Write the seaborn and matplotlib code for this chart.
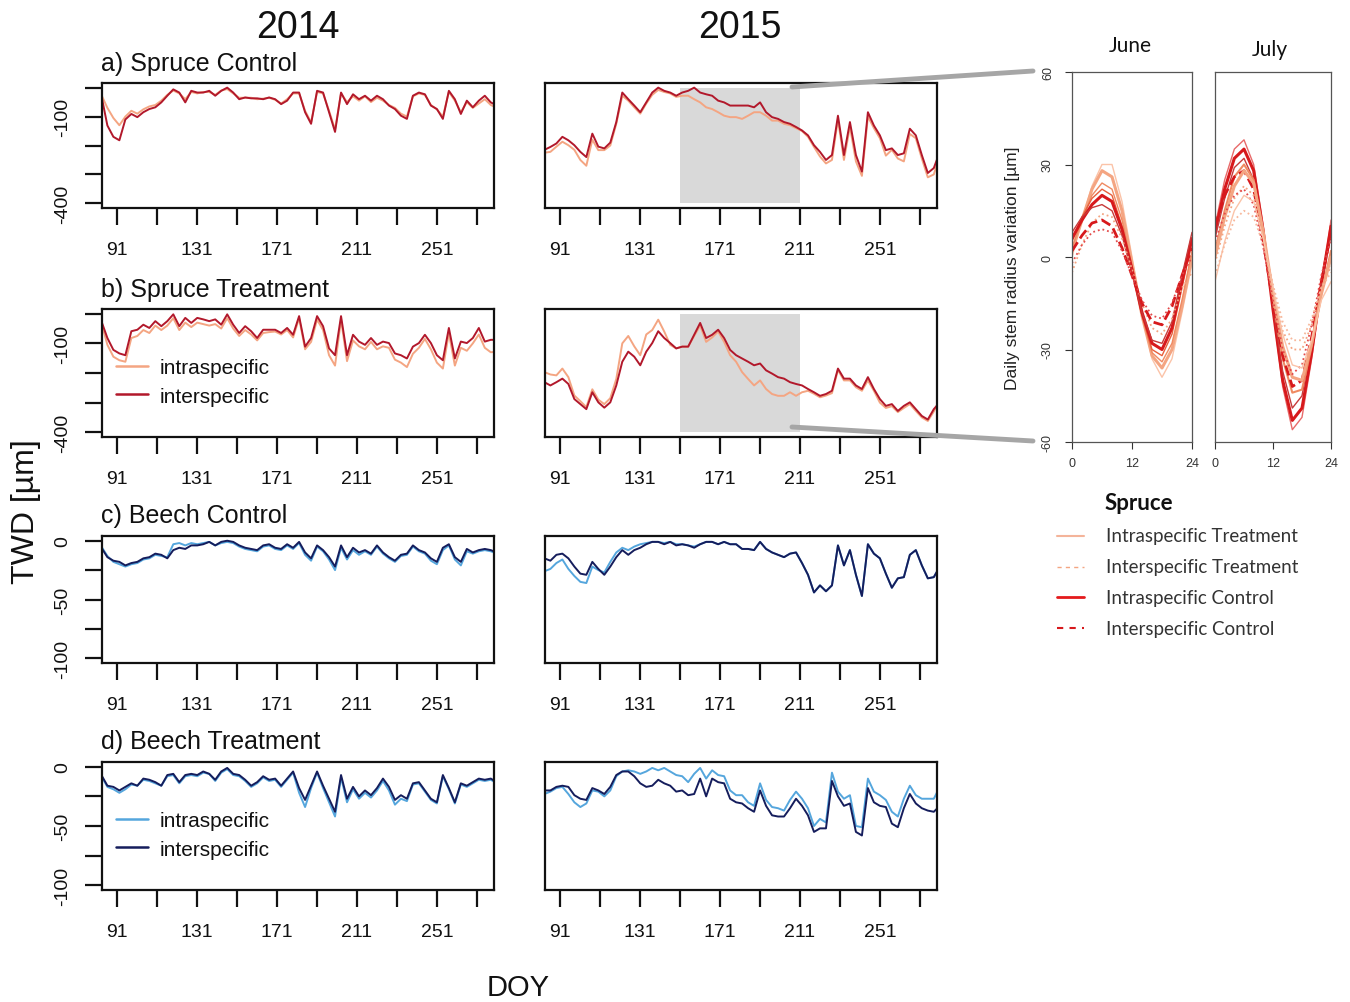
import numpy as np
import matplotlib
matplotlib.use("Agg")
import matplotlib.pyplot as plt
import seaborn as sns
from matplotlib.lines import Line2D

# ---------------- data ----------------
doy = np.arange(83, 282, 3)  # day of year, every 3rd day

spruce_ctrl_2014_intra = [-25, -70, -105, -130, -100, -80, -90, -75, -65, -60,
                          -45, -25, -10, -20, -40, -15, -20, -15, -15, -25,
                          -10, -5, -20, -35, -35, -35, -40, -38, -35, -42,
                          -55, -40, -20, -20, -80, -120, -15, -20, -80, -145,
                          -20, -50, -30, -45, -30, -50, -35, -45, -60, -70,
                          -90, -100, -30, -20, -25, -60, -75, -100, -15, -45,
                          -85, -50, -70, -55, -40, -60, -70]
spruce_ctrl_2014_inter = [-28, -131, -170, -182, -110, -91, -102, -85, -74, -68,
                          -51, -28, -6, -17, -51, -11, -17, -17, -11, -28,
                          -11, 0, -17, -40, -34, -37, -37, -40, -34, -40,
                          -57, -45, -17, -17, -85, -125, -11, -17, -85, -153,
                          -17, -57, -23, -40, -28, -45, -28, -40, -62, -74,
                          -97, -108, -28, -17, -23, -62, -74, -108, -11, -40,
                          -91, -45, -68, -45, -28, -51, -62]
spruce_ctrl_2015_intra = [-225, -222, -204, -187, -199, -215, -250, -270, -180, -216,
                          -216, -200, -125, -28, -45, -68, -90, -55, -25, -8,
                          -15, -20, -32, -28, -28, -40, -51, -68, -74, -85,
                          -97, -102, -102, -108, -97, -85, -85, -97, -114, -114,
                          -125, -130, -140, -150, -170, -205, -238, -262, -250, -110,
                          -250, -135, -255, -305, -100, -140, -175, -235, -215, -245,
                          -255, -160, -175, -245, -310, -300, -235]
spruce_ctrl_2015_inter = [-215, -205, -193, -170, -182, -199, -222, -240, -159, -204,
                          -210, -190, -119, -17, -40, -62, -85, -51, -17, 0,
                          -11, -17, -28, -17, -11, 0, -17, -23, -28, -45,
                          -51, -62, -62, -62, -62, -68, -51, -85, -102, -108,
                          -119, -125, -136, -148, -165, -199, -222, -250, -233, -97,
                          -233, -119, -233, -290, -85, -131, -165, -216, -210, -233,
                          -227, -142, -165, -233, -295, -278, -222]
spruce_trt_2014_intra = [-30, -105, -145, -157, -162, -82, -75, -55, -65, -40,
                         -55, -40, -15, -55, -30, -45, -30, -35, -40, -35,
                         -50, -15, -50, -75, -55, -70, -90, -65, -62, -60,
                         -70, -55, -80, -15, -120, -95, -20, -55, -140, -175,
                         -20, -160, -90, -110, -120, -95, -120, -110, -115, -155,
                         -165, -180, -135, -115, -85, -120, -165, -185, -65, -175,
                         -115, -125, -100, -70, -115, -130, -128]
spruce_trt_2014_inter = [-25, -82, -122, -134, -140, -59, -54, -37, -48, -25,
                         -42, -25, -2, -42, -14, -31, -14, -19, -25, -19,
                         -37, -2, -37, -65, -42, -59, -82, -54, -54, -54,
                         -65, -48, -71, -8, -111, -82, -8, -42, -117, -140,
                         -8, -140, -71, -94, -105, -82, -105, -94, -99, -134,
                         -140, -151, -111, -99, -71, -99, -140, -157, -48, -151,
                         -94, -99, -82, -48, -94, -88, -88]
spruce_trt_2015_intra = [-197, -205, -208, -185, -214, -276, -295, -315, -255, -290,
                         -305, -285, -220, -100, -75, -110, -140, -70, -55, -20,
                         -60, -105, -117, -111, -111, -75, -40, -95, -80, -60,
                         -95, -140, -162, -197, -220, -242, -225, -254, -271, -277,
                         -277, -265, -277, -265, -260, -270, -282, -276, -268, -190,
                         -225, -225, -248, -260, -225, -260, -300, -318, -312, -332,
                         -318, -305, -328, -350, -362, -330, -290]
spruce_trt_2015_inter = [-231, -242, -231, -219, -237, -288, -305, -322, -265, -299,
                         -317, -299, -242, -162, -128, -145, -174, -128, -99, -59,
                         -82, -99, -117, -111, -111, -71, -31, -82, -71, -54,
                         -82, -122, -140, -151, -162, -174, -168, -191, -202, -214,
                         -219, -231, -237, -242, -254, -265, -277, -271, -260, -185,
                         -219, -219, -242, -254, -214, -254, -288, -311, -305, -328,
                         -311, -299, -322, -345, -357, -322, -299]

beech_ctrl_2014_intra = [-5, -13, -18, -20, -22, -20, -19, -16, -15, -12,
                         -13, -14, -3, -2, -4, -2, -3, -2, -1, -4,
                         -2, -1, -2, -5, -7, -8, -9, -5, -4, -7,
                         -8, -4, -7, -2, -12, -17, -5, -9, -16, -25,
                         -6, -16, -8, -12, -9, -12, -5, -11, -15, -18,
                         -13, -12, -5, -9, -11, -17, -20, -8, -4, -16,
                         -21, -9, -11, -9, -8, -9, -11]
beech_ctrl_2014_inter = [-6, -14, -17, -18, -21, -19, -18, -15, -14, -11,
                         -12, -15, -8, -6, -7, -4, -4, -3, -1, -4,
                         -1, 0, -1, -4, -6, -7, -8, -4, -3, -6,
                         -7, -3, -6, -1, -10, -15, -4, -8, -14, -22,
                         -4, -14, -6, -10, -8, -11, -4, -10, -14, -17,
                         -12, -11, -4, -8, -10, -15, -18, -6, -3, -14,
                         -18, -7, -10, -8, -7, -8, -10]
beech_ctrl_2015_intra = [-26, -24, -19, -16, -24, -30, -35, -36, -22, -25,
                         -27, -18, -10, -6, -8, -5, -3, -2, -1, -1,
                         -2, -1, -3, -3, -4, -5, -3, -1, -1, -3,
                         -1, -3, -3, -7, -7, -8, -1, -7, -10, -12,
                         -14, -11, -10, -19, -29, -44, -38, -43, -38, -4,
                         -21, -8, -29, -47, -3, -11, -15, -28, -40, -32,
                         -31, -12, -8, -21, -32, -31, -22]
beech_ctrl_2015_inter = [-15, -17, -12, -11, -15, -22, -28, -29, -18, -24,
                         -29, -22, -14, -8, -12, -8, -6, -3, -1, -1,
                         -3, -1, -4, -3, -4, -6, -3, -1, -1, -3,
                         -1, -3, -3, -7, -7, -8, -1, -7, -10, -12,
                         -14, -11, -10, -19, -29, -44, -38, -43, -38, -4,
                         -21, -8, -29, -47, -3, -11, -15, -28, -40, -32,
                         -31, -12, -8, -21, -32, -31, -22]
beech_trt_2014_intra = [-8, -17, -19, -22, -19, -15, -16, -11, -12, -14,
                        -16, -8, -7, -14, -8, -7, -8, -5, -6, -12,
                        -5, -2, -7, -8, -12, -17, -14, -9, -12, -11,
                        -17, -11, -5, -22, -34, -18, -5, -18, -30, -42,
                        -9, -30, -19, -27, -22, -26, -20, -12, -20, -32,
                        -27, -29, -15, -14, -21, -28, -31, -8, -19, -31,
                        -15, -17, -14, -11, -12, -11, -14]
beech_trt_2014_inter = [-7, -16, -17, -20, -17, -14, -16, -10, -11, -13,
                        -16, -7, -6, -13, -7, -6, -7, -4, -6, -11,
                        -4, -1, -6, -7, -11, -16, -13, -8, -11, -10,
                        -16, -10, -4, -18, -28, -16, -4, -16, -27, -38,
                        -7, -27, -17, -25, -20, -24, -18, -10, -17, -28,
                        -24, -27, -14, -13, -20, -27, -30, -7, -18, -30,
                        -14, -16, -13, -10, -11, -10, -13]
beech_trt_2015_intra = [-23, -21, -18, -17, -23, -30, -34, -31, -20, -21,
                        -25, -20, -8, -4, -3, -4, -6, -4, -1, -3,
                        -1, -4, -7, -8, -13, -6, -1, -10, -3, -7,
                        -8, -20, -24, -24, -30, -33, -14, -28, -34, -35,
                        -37, -28, -21, -27, -35, -50, -44, -47, -5, -21,
                        -27, -24, -50, -51, -10, -21, -24, -28, -38, -42,
                        -27, -16, -24, -27, -27, -27, -17]
beech_trt_2015_inter = [-20, -20, -17, -16, -17, -24, -27, -28, -18, -20,
                        -23, -17, -7, -4, -4, -8, -14, -17, -16, -11,
                        -14, -16, -21, -20, -24, -23, -10, -25, -10, -13,
                        -14, -27, -30, -31, -35, -38, -20, -33, -41, -42,
                        -42, -35, -27, -33, -41, -55, -52, -52, -12, -25,
                        -33, -31, -55, -58, -18, -30, -33, -34, -48, -51,
                        -35, -23, -31, -35, -37, -38, -33]

# diurnal cycles (hour of day, every 2 h)
hours = [0, 2, 4, 6, 8, 10, 12, 14, 16, 18, 20, 22, 24]
june_curves = {
    "intra_trt_a": [0, 12, 23, 30, 30, 18, 0, -18, -33, -39, -33, -18, -2],
    "intra_trt_b": [2, 12, 22, 28, 26, 15, -2, -19, -32, -36, -30, -16, 0],
    "intra_trt_c": [3, 12, 20, 24, 22, 12, -3, -19, -31, -34, -28, -14, 2],
    "intra_ctrl_a": [5, 13, 19, 22, 20, 10, -4, -19, -30, -32, -25, -10, 5],
    "intra_ctrl_b": [6, 12, 17, 20, 18, 9, -4, -18, -28, -30, -23, -8, 6],
    "intra_ctrl_c": [8, 13, 16, 17, 15, 7, -5, -18, -27, -28, -21, -6, 8],
    "inter_trt_a": [-5, 4, 11, 14, 13, 6, -4, -15, -23, -25, -20, -10, -5],
    "inter_ctrl_a": [2, 7, 11, 12, 10, 3, -6, -15, -21, -22, -16, -6, 3],
    "inter_ctrl_b": [-2, 4, 8, 9, 8, 2, -6, -14, -19, -20, -15, -6, 0],
}
july_curves = {
    "intra_ctrl_a": [10, 25, 35, 38, 30, 10, -17, -42, -56, -52, -33, -10, 12],
    "intra_ctrl_b": [8, 22, 32, 35, 28, 8, -17, -40, -53, -49, -31, -9, 10],
    "intra_ctrl_c": [6, 19, 29, 32, 25, 6, -16, -37, -49, -45, -28, -9, 7],
    "intra_trt_a": [2, 15, 26, 30, 25, 7, -14, -33, -44, -43, -29, -12, 2],
    "inter_ctrl_a": [10, 20, 26, 28, 22, 5, -15, -32, -42, -40, -26, -8, 8],
    "intra_trt_b": [0, 13, 23, 28, 24, 8, -12, -29, -39, -40, -28, -12, 0],
    "inter_trt_a": [-2, 10, 19, 23, 20, 6, -10, -24, -30, -30, -22, -10, -3],
    "inter_ctrl_b": [5, 14, 20, 22, 17, 3, -14, -30, -38, -35, -22, -6, 6],
    "intra_trt_c": [-8, 5, 15, 20, 18, 6, -10, -25, -35, -36, -27, -14, -8],
    "inter_trt_b": [-6, 4, 12, 15, 13, 4, -9, -21, -27, -27, -20, -10, -5],
}

x_ticks = list(range(91, 272, 20))
x_labels = ["91", "", "131", "", "171", "", "211", "", "251", ""]
highlight_start, highlight_end = 151, 211
spruce_yticks = [-400, -300, -200, -100, 0]
spruce_ylabels = ["-400", "", "", "-100", ""]
beech_yticks = [-100, -75, -50, -25, 0]
beech_ylabels = ["-100", "", "-50", "", "0"]

# ---------------- styling ----------------
sns.set_theme(style="white")
plt.rcParams['font.family'] = ['Liberation Sans', 'DejaVu Sans']
plt.rcParams['text.color'] = '#111111'

W, H = 1350, 1003
fig = plt.figure(figsize=(W / 100, H / 100), dpi=100)
fig.patch.set_facecolor("white")


def px_axes(l, t, r, b):
    return fig.add_axes([l / W, 1 - b / H, (r - l) / W, (b - t) / H])


def fx(x):
    return x / W


def fy(y):
    return 1 - y / H


SP_INTRA, SP_INTER = "#f4a582", "#b2182b"
BE_INTRA, BE_INTER = "#55a6dd", "#151d5c"


def ts_panel(box, intra, inter, c_intra, c_inter, spruce, highlight=False, yaxis=True):
    ax = px_axes(*box)
    ax.set_facecolor("white")
    if highlight:
        ax.fill_between([highlight_start, highlight_end], -400, 0,
                        color="#d9d9d9", lw=0, zorder=0)
    sns.lineplot(x=doy, y=intra, ax=ax, color=c_intra, lw=1.4, legend=False)
    sns.lineplot(x=doy, y=inter, ax=ax, color=c_inter, lw=1.4, legend=False)
    ax.set_xlim(83.3, 279.6)
    if spruce:
        ax.set_ylim(-416, 16)
        ax.set_yticks(spruce_yticks)
        ax.set_yticklabels(spruce_ylabels, rotation=90, va="center")
    else:
        ax.set_ylim(-104, 4)
        ax.set_yticks(beech_yticks)
        ax.set_yticklabels(beech_ylabels, rotation=90, va="center")
    if not yaxis:
        ax.set_yticks([])
    ax.set_xticks(x_ticks)
    ax.set_xticklabels(x_labels)
    ax.tick_params(axis="x", bottom=True, length=12, width=1.6, pad=12,
                   labelsize=14, colors="#111111")
    ax.tick_params(axis="y", left=yaxis, length=12, width=1.6, pad=10,
                   labelsize=14, colors="#111111")
    for s in ax.spines.values():
        s.set_color("#111111")
        s.set_linewidth(1.6)
    ax.set_xlabel("")
    ax.set_ylabel("")
    return ax


col_x = [(102, 494), (545, 937)]
rows_y = [(84, 209), (310, 438), (537, 664), (763, 891)]
series = [
    (spruce_ctrl_2014_intra, spruce_ctrl_2014_inter, spruce_ctrl_2015_intra, spruce_ctrl_2015_inter, True),
    (spruce_trt_2014_intra, spruce_trt_2014_inter, spruce_trt_2015_intra, spruce_trt_2015_inter, True),
    (beech_ctrl_2014_intra, beech_ctrl_2014_inter, beech_ctrl_2015_intra, beech_ctrl_2015_inter, False),
    (beech_trt_2014_intra, beech_trt_2014_inter, beech_trt_2015_intra, beech_trt_2015_inter, False),
]
titles = ["a) Spruce Control", "b) Spruce Treatment", "c) Beech Control", "d) Beech Treatment"]
title_y = [64, 290, 516, 742]

axes = {}
for r, ((t, b), (i14, e14, i15, e15, spruce)) in enumerate(zip(rows_y, series)):
    ci, ce = (SP_INTRA, SP_INTER) if spruce else (BE_INTRA, BE_INTER)
    axes[(r, 0)] = ts_panel((col_x[0][0], t, col_x[0][1], b), i14, e14, ci, ce, spruce)
    axes[(r, 1)] = ts_panel((col_x[1][0], t, col_x[1][1], b), i15, e15, ci, ce, spruce,
                            highlight=(r < 2), yaxis=False)
    fig.text(fx(101), fy(title_y[r]), titles[r], fontsize=18, ha="left", va="center")

# in-panel legends
for r, (ci, ce) in [(1, (SP_INTRA, SP_INTER)), (3, (BE_INTRA, BE_INTER))]:
    handles = [Line2D([], [], color=ci, lw=1.8), Line2D([], [], color=ce, lw=1.8)]
    axes[(r, 0)].legend(handles, ["intraspecific", "interspecific"], loc="upper left",
                        bbox_to_anchor=(0.036, 0.615), frameon=False, fontsize=15,
                        handlelength=1.55, handletextpad=0.55, labelspacing=0.45,
                        borderpad=0, borderaxespad=0)

# headers and axis titles
fig.text(fx(298), fy(28), "2014", fontsize=27, ha="center", va="center")
fig.text(fx(740), fy(28), "2015", fontsize=27, ha="center", va="center")
fig.text(fx(26), fy(512), "TWD [µm]", fontsize=23, rotation=90, ha="center", va="center")
fig.text(fx(518), fy(988), "DOY", fontsize=21, ha="center", va="center")

# ---------------- diurnal panels ----------------
curve_style = {
    "intra_trt_a": ("#fbc3a8", "-", 1.0),
    "intra_trt_b": ("#f4a582", "-", 2.2),
    "intra_trt_c": ("#ef8a62", "-", 1.0),
    "intra_ctrl_a": ("#e8603c", "-", 1.0),
    "intra_ctrl_b": ("#d7191c", "-", 2.2),
    "intra_ctrl_c": ("#c73a3a", "-", 1.0),
    "inter_trt_a": ("#f4a582", ":", 1.3),
    "inter_trt_b": ("#f7b89c", ":", 1.3),
    "inter_ctrl_a": ("#d7191c", "--", 2.0),
    "inter_ctrl_b": ("#e34a4a", ":", 1.3),
}
july_style = dict(curve_style)
july_style["intra_ctrl_a"] = ("#e86a6a", "-", 1.0)
july_style["intra_trt_a"] = ("#ef8a62", "-", 1.5)
july_style["intra_trt_c"] = ("#fbc3a8", "-", 1.0)

ax_j = px_axes(1072, 73, 1192, 443)
ax_l = px_axes(1215, 73, 1331, 443)
for ax, curves, styles, title, tx, ty in [(ax_j, june_curves, curve_style, "June", 1130, 46),
                                         (ax_l, july_curves, july_style, "July", 1270, 50)]:
    for name, vals in curves.items():
        c, ls, lw = styles[name]
        sns.lineplot(x=hours, y=vals, ax=ax, color=c, linestyle=ls, lw=lw, legend=False)
    ax.set_xlim(0, 24)
    ax.set_ylim(-60, 60)
    ax.set_xticks([0, 12, 24])
    ax.set_xticklabels(["0", "12", "24"])
    ax.tick_params(axis="x", bottom=True, length=5, width=0.8, pad=6, labelsize=9,
                   colors="#333333")
    for s in ax.spines.values():
        s.set_color("#555555")
        s.set_linewidth(0.9)
    ax.set_facecolor("white")
    ax.set_xlabel("")
    ax.set_ylabel("")
    fig.text(fx(tx), fy(ty), title, fontsize=15, ha="center", va="center",
             family=["Lato", "DejaVu Sans"])

ax_j.set_yticks([-60, -30, 0, 30, 60])
ax_j.set_yticklabels(["-60", "-30", "0", "30", "60"], rotation=90, va="center")
ax_j.tick_params(axis="y", left=True, length=5, width=0.8, pad=8, labelsize=9,
                 colors="#333333")
ax_l.set_yticks([])
fig.text(fx(1012), fy(268), "Daily stem radius variation [µm]", fontsize=12.5,
         rotation=90, ha="center", va="center", color="#222222")

# connector lines from highlighted period to June panel
fig.add_artist(Line2D([fx(792), fx(1033)], [fy(88), fy(72)], color="#a6a6a6", lw=3.5))
fig.add_artist(Line2D([fx(792), fx(1033)], [fy(428), fy(442)], color="#a6a6a6", lw=3.5))

# spruce legend for diurnal panels
fig.text(fx(1105), fy(503), "Spruce", fontsize=16, fontweight="bold", ha="left",
         va="center", family=["Lato", "DejaVu Sans"])
leg_items = [("Intraspecific Treatment", "#f4b49a", "-", 1.5),
             ("Interspecific Treatment", "#f4a582", (0, (3, 3)), 1.0),
             ("Intraspecific Control", "#e41a1c", "-", 2.0),
             ("Interspecific Control", "#d7191c", (0, (3, 3)), 1.5)]
for k, (lab, c, ls, lw) in enumerate(leg_items):
    yy = 537 + k * 30.7
    fig.add_artist(Line2D([fx(1057), fx(1084)], [fy(yy), fy(yy)], color=c, ls=ls, lw=lw))
    fig.text(fx(1106), fy(yy), lab, fontsize=13.5, ha="left", va="center",
             color="#333333", family=["Lato", "DejaVu Sans"])

fig.savefig("out.png", dpi=100, facecolor="white")
